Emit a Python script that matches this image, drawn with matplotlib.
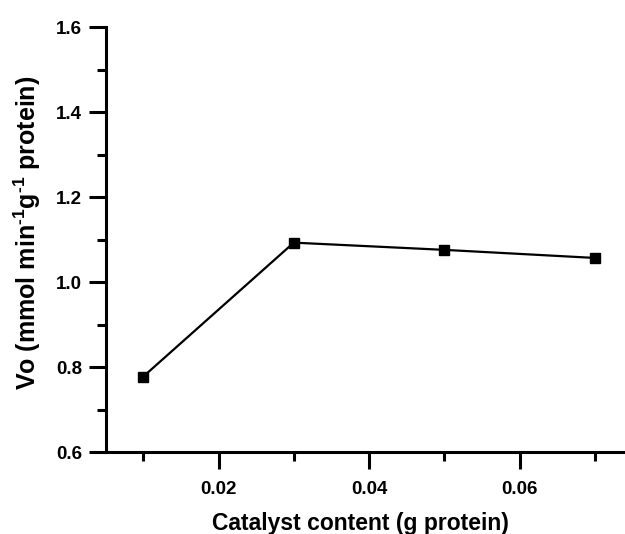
import matplotlib
matplotlib.use("Agg")
import matplotlib.pyplot as plt
from matplotlib.ticker import MultipleLocator, FormatStrFormatter

# catalyst content (g protein) and initial rate Vo
catalyst = [0.01, 0.03, 0.05, 0.07]
vo = [0.778, 1.093, 1.076, 1.057]

plt.rcParams['font.family'] = ['Liberation Sans', 'DejaVu Sans']
plt.rcParams['font.weight'] = 'bold'
plt.rcParams['mathtext.fontset'] = 'custom'
plt.rcParams['mathtext.rm'] = 'Liberation Sans:bold'
plt.rcParams['mathtext.default'] = 'rm'

fig = plt.figure(figsize=(6.25, 5.34), dpi=100)
ax = fig.add_axes([0.169, 0.153, 0.843, 0.7964])

ax.plot(catalyst, vo, color='black', linewidth=1.6, marker='s',
        markersize=7.5, markerfacecolor='black', markeredgecolor='black')

ax.set_xlim(0.005, 0.075)
ax.set_ylim(0.6, 1.6)
ax.xaxis.set_major_locator(MultipleLocator(0.02))
ax.xaxis.set_minor_locator(MultipleLocator(0.01))
ax.yaxis.set_major_locator(MultipleLocator(0.2))
ax.yaxis.set_minor_locator(MultipleLocator(0.1))
ax.xaxis.set_major_formatter(FormatStrFormatter('%.2f'))
ax.yaxis.set_major_formatter(FormatStrFormatter('%.1f'))

for s in ['top', 'right']:
    ax.spines[s].set_visible(False)
for s in ['left', 'bottom']:
    ax.spines[s].set_linewidth(2.2)

ax.tick_params(which='major', length=12, width=2.2, labelsize=13.5, direction='out')
ax.tick_params(which='minor', length=6.5, width=2.2, direction='out')
ax.tick_params(axis='x', which='major', pad=9)
ax.tick_params(axis='y', which='major', pad=5)

ax.set_xlabel('Catalyst content (g protein)', fontsize=16.5, fontweight='bold')
ax.set_ylabel(r'Vo (mmol min$^{\text{-1}}$g$^{\text{-1}}$ protein)', fontsize=18,
              fontweight='bold')
ax.xaxis.set_label_coords(0.484, -0.141)
ax.yaxis.set_label_coords(-0.118, 0.515)

fig.savefig('out.png', dpi=100)
